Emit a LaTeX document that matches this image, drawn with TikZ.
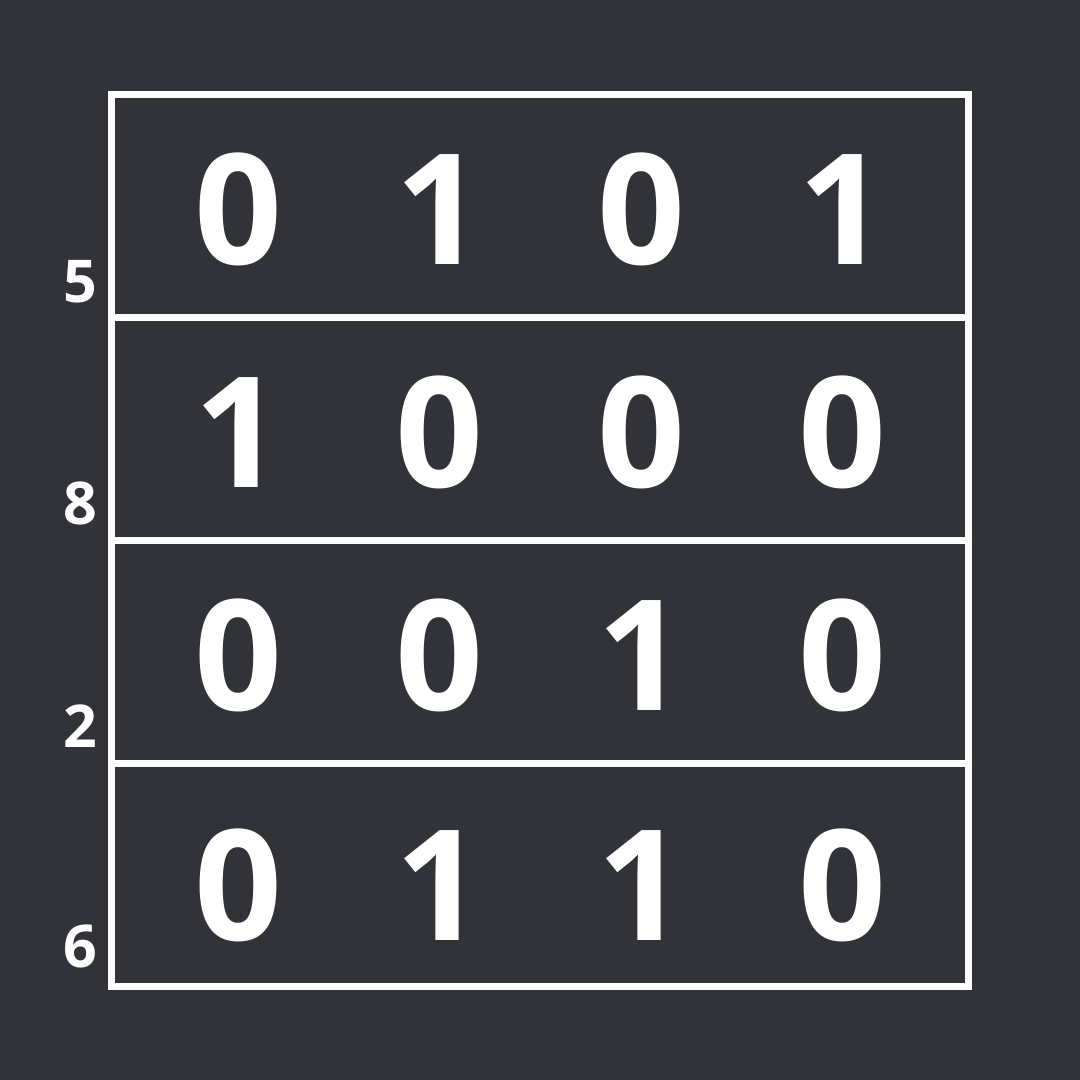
\documentclass[tikz,border=0pt]{standalone}
\usepackage{fontspec}
\setmainfont{Open Sans}
\usepackage{xcolor}
\usepackage{tikz}
\usetikzlibrary{positioning}

\definecolor{slate}{HTML}{323339}

\begin{document}
\begin{tikzpicture}[x=1pt, y=-1pt,
		rowbox/.style={draw=white, line width=7pt, minimum width=856.5pt, minimum height=223pt, inner sep=0pt, outer sep=0pt},
		bit/.style={text=white, anchor=base, inner sep=0pt, font=\fontsize{154}{160}\selectfont\bfseries},
		val/.style={text=white, anchor=base, inner sep=0pt, font=\fontsize{59}{62}\selectfont\bfseries}]
		\fill[slate] (0,0) rectangle (1080,1080);
		\useasboundingbox (0,0) rectangle (1080,1080);

		\node[rowbox] (row1) at (539.75,205.5) {};
		\node[rowbox] (row2) at (539.75,428.5) {};
		\node[rowbox] (row3) at (539.75,651.5) {};
		\node[rowbox] (row4) at (539.75,874.5) {};

		\node[bit] (b11) at (238,264) {0};
		\node[bit] (b12) at (439.5,264) {1};
		\node[bit] (b13) at (641,264) {0};
		\node[bit] (b14) at (842.5,264) {1};

		\node[bit] (b21) at (238,487) {1};
		\node[bit] (b22) at (439.5,487) {0};
		\node[bit] (b23) at (641,487) {0};
		\node[bit] (b24) at (842.5,487) {0};

		\node[bit] (b31) at (238,710) {0};
		\node[bit] (b32) at (439.5,710) {0};
		\node[bit] (b33) at (641,710) {1};
		\node[bit] (b34) at (842.5,710) {0};

		\node[bit] (b41) at (238,940) {0};
		\node[bit] (b42) at (439.5,940) {1};
		\node[bit] (b43) at (641,940) {1};
		\node[bit] (b44) at (842.5,940) {0};

		\node[val] (v1) at (80,302) {5};
		\node[val] (v2) at (80,524) {8};
		\node[val] (v3) at (80,747) {2};
		\node[val] (v4) at (80,967) {6};
	\end{tikzpicture}
\end{document}
